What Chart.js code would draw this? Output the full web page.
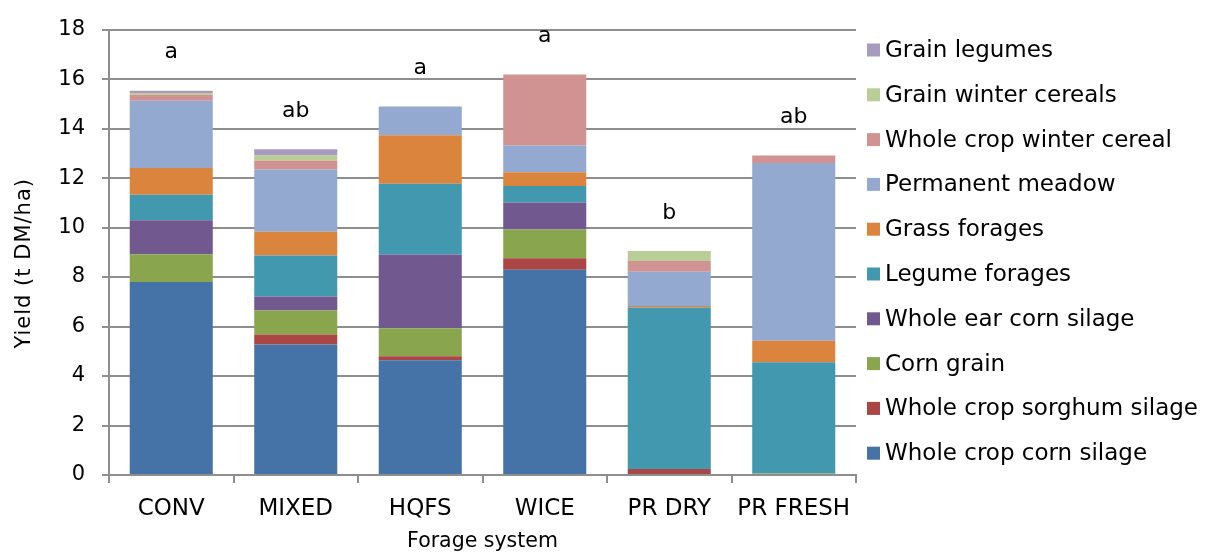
<!DOCTYPE html>
<html>
<head>
<meta charset="utf-8">
<script src="https://cdn.jsdelivr.net/npm/chart.js@4.4.0/dist/chart.umd.min.js"></script>
<style>
  html, body { margin: 0; padding: 0; background: #ffffff; }
  #wrap { width: 1206px; height: 556px; }
</style>
</head>
<body>
<div id="wrap"><canvas id="chart" width="1206" height="556"></canvas></div>
<script>
// Forage systems (categories)
const systems = ['CONV', 'MIXED', 'HQFS', 'WICE', 'PR DRY', 'PR FRESH'];

// Yield per crop, t DM/ha, one value per forage system
const wholeCropCornSilage    = [7.80, 5.27, 4.64, 8.29, 0.00, 0.00];
const wholeCropSorghumSilage = [0.00, 0.41, 0.16, 0.47, 0.24, 0.00];
const cornGrain              = [1.12, 0.97, 1.13, 1.16, 0.00, 0.06];
const wholeEarCornSilage     = [1.38, 0.56, 2.98, 1.09, 0.00, 0.00];
const legumeForages          = [1.03, 1.66, 2.86, 0.67, 6.53, 4.50];
const grassForages           = [1.08, 0.96, 1.96, 0.56, 0.06, 0.87];
const permanentMeadow        = [2.71, 2.52, 1.16, 1.08, 1.38, 7.18];
const wholeCropWinterCereal  = [0.25, 0.36, 0.00, 2.87, 0.44, 0.30];
const grainWinterCereals     = [0.07, 0.20, 0.00, 0.00, 0.40, 0.00];
const grainLegumes           = [0.09, 0.25, 0.00, 0.00, 0.00, 0.00];

// Significance letters shown above each stack
const significance = ['a', 'ab', 'a', 'a', 'b', 'ab'];

// Y axis tick values
const yTicks = [0, 2, 4, 6, 8, 10, 12, 14, 16, 18];

const FONT = '"DejaVu Sans", sans-serif';
const GRID = '#8e8e8e';

const series = [
  ['Whole crop corn silage',    wholeCropCornSilage,    '#4572a7'],
  ['Whole crop sorghum silage', wholeCropSorghumSilage, '#aa4643'],
  ['Corn grain',                cornGrain,              '#89a54e'],
  ['Whole ear corn silage',     wholeEarCornSilage,     '#71588f'],
  ['Legume forages',            legumeForages,          '#4198af'],
  ['Grass forages',             grassForages,           '#db843d'],
  ['Permanent meadow',          permanentMeadow,        '#93a9cf'],
  ['Whole crop winter cereal',  wholeCropWinterCereal,  '#d19392'],
  ['Grain winter cereals',      grainWinterCereals,     '#b9cd96'],
  ['Grain legumes',             grainLegumes,           '#a99bbd']
];

// Letters above stacks, y-axis title and the legend on the right
const overlay = {
  id: 'overlay',
  afterDatasetsDraw(chart) {
    const ctx = chart.ctx;
    const y = chart.scales.y;
    const x = chart.scales.x;
    ctx.save();
    ctx.fillStyle = '#000000';
    ctx.font = '22px ' + FONT;
    ctx.textAlign = 'center';
    ctx.textBaseline = 'middle';
    systems.forEach((s, i) => {
      let total = 0;
      chart.data.datasets.forEach(ds => { total += ds.data[i]; });
      ctx.fillText(significance[i], x.getPixelForValue(i), y.getPixelForValue(total) - 38);
    });

    // rotated axis title
    ctx.save();
    ctx.translate(25, (y.top + y.bottom) / 2 + 11);
    ctx.rotate(-Math.PI / 2);
    ctx.font = '21px ' + FONT;
    ctx.letterSpacing = '1px';
    ctx.fillText('Yield (t DM/ha)', 0, 0);
    ctx.restore();

    // legend, top entry = last stacked series
    const items = chart.data.datasets.slice().reverse();
    const lx = 867, ly0 = 50, step = 44.8, box = 13;
    ctx.font = '23px ' + FONT;
    ctx.textAlign = 'left';
    items.forEach((ds, k) => {
      const cy = ly0 + k * step;
      ctx.fillStyle = ds.backgroundColor;
      ctx.fillRect(lx, cy - box / 2, box, box);
      ctx.fillStyle = '#000000';
      ctx.fillText(ds.label, lx + 18, cy + 1);
    });
    ctx.restore();
  }
};

new Chart(document.getElementById('chart'), {
  type: 'bar',
  data: {
    labels: systems,
    datasets: series.map(([label, data, color]) => ({
      label, data,
      backgroundColor: color,
      borderWidth: 0,
      categoryPercentage: 1.0,
      barPercentage: 0.667
    }))
  },
  options: {
    responsive: false,
    animation: false,
    devicePixelRatio: 1,
    layout: { padding: { left: 0, top: 27, right: 350, bottom: 0 } },
    plugins: {
      legend: { display: false },
      tooltip: { enabled: false }
    },
    scales: {
      x: {
        stacked: true,
        grid: {
          display: true,
          drawOnChartArea: false,
          drawTicks: true,
          tickLength: 8,
          offset: true,
          color: GRID,
          lineWidth: 2
        },
        border: { display: true, color: GRID, width: 2 },
        ticks: {
          color: '#000000',
          font: { family: FONT, size: 23 },
          padding: 12,
          maxRotation: 0
        },
        title: {
          display: true,
          text: 'Forage system',
          color: '#000000',
          font: { family: FONT, size: 20.5 },
          padding: { top: 0, bottom: 2 }
        },
        afterFit(scale) { scale.height = 81; }
      },
      y: {
        stacked: true,
        min: 0,
        max: 18,
        afterBuildTicks(scale) { scale.ticks = yTicks.map(v => ({ value: v })); },
        grid: {
          color: GRID,
          lineWidth: 2,
          drawTicks: true,
          tickLength: 7
        },
        border: { display: true, color: GRID, width: 2 },
        ticks: {
          color: '#000000',
          font: { family: FONT, size: 21 },
          padding: 17
        },
        title: { display: false },
        afterFit(scale) { scale.width = 109; }
      }
    }
  },
  plugins: [overlay]
});
</script>
</body>
</html>
